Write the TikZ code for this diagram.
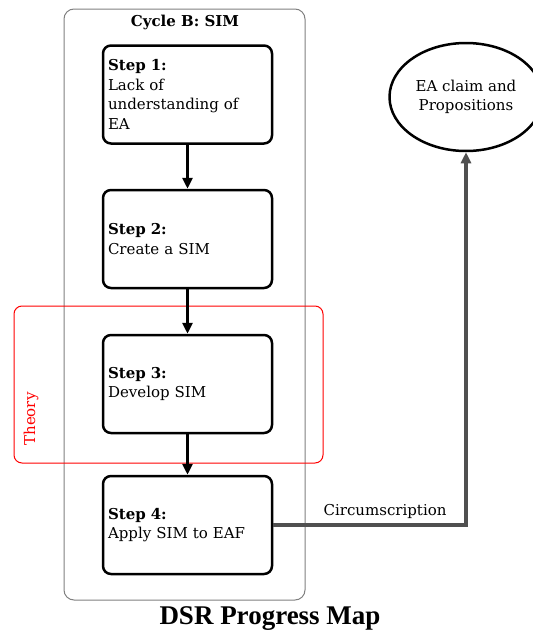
\documentclass[tikz,border=0pt]{standalone}
\usepackage{fontspec}
\setmainfont{DejaVu Serif}
\newfontfamily\titlefont{Liberation Serif}
\usetikzlibrary{arrows.meta,shapes.geometric}
\definecolor{framegray}{HTML}{808080}
\definecolor{linkgray}{HTML}{505050}
\tikzset{
  boxtext/.style={font=\fontsize{15}{19.5}\selectfont},
  stepbox/.style={draw, line width=2.5pt, rounded corners=8pt, fill=white,
    minimum width=169pt, minimum height=98pt, text width=159pt, align=left,
    inner sep=5pt, boxtext},
  flow/.style={line width=3pt, -{Triangle[length=11pt,width=10pt]}},
  link/.style={line width=4pt, draw=linkgray, -{Triangle[length=11pt,width=10pt]}},
}
\begin{document}
\begin{tikzpicture}[x=1pt,y=-1pt]
  \useasboundingbox (0,0) rectangle (533,635);
  % cycle frame
  \node[draw=framegray, line width=1pt, rounded corners=10pt,
        minimum width=241pt, minimum height=591pt, inner sep=0pt] (cycle) at (184.5,304.5) {};
  \node[font=\fontsize{15}{18}\selectfont\bfseries] (cyclename) at (185,22) {Cycle B: SIM};
  % steps
  \node[stepbox] (s1) at (187.5,94.5) {\textbf{Step 1:}\\Lack of\\understanding of\\EA};
  \node[stepbox] (s2) at (187.5,239) {\textbf{Step 2:}\\Create a SIM};
  \node[stepbox] (s3) at (187.5,384) {\textbf{Step 3:}\\Develop SIM};
  \node[stepbox] (s4) at (187.5,525) {\textbf{Step 4:}\\Apply SIM to EAF};
  % theory frame
  \node[draw=red, line width=1pt, rounded corners=8pt,
        minimum width=309pt, minimum height=157pt, inner sep=0pt] (theoryframe) at (168.5,384.5) {};
  \node[boxtext, text=red, rotate=90] (theory) at (31,419) {Theory};
  % flow between steps
  \draw[flow] (s1.south) -- (s2.north);
  \draw[flow] (s2.south) -- (s3.north);
  \draw[flow] (s3.south) -- (s4.north);
  % outcome
  \node[draw, ellipse, line width=2.5pt, minimum width=153pt, minimum height=108pt,
        align=center, boxtext, inner sep=0pt] (claim) at (466,97)
        {EA claim and\\Propositions};
  \draw[link] (s4.east) -| node[pos=0.29, above=1pt, boxtext, text=black] (circ) {Circumscription} (claim.south);
  % title
  \node[font=\titlefont\bfseries\fontsize{27}{30}\selectfont] (title) at (270,619) {DSR Progress Map};
\end{tikzpicture}
\end{document}
